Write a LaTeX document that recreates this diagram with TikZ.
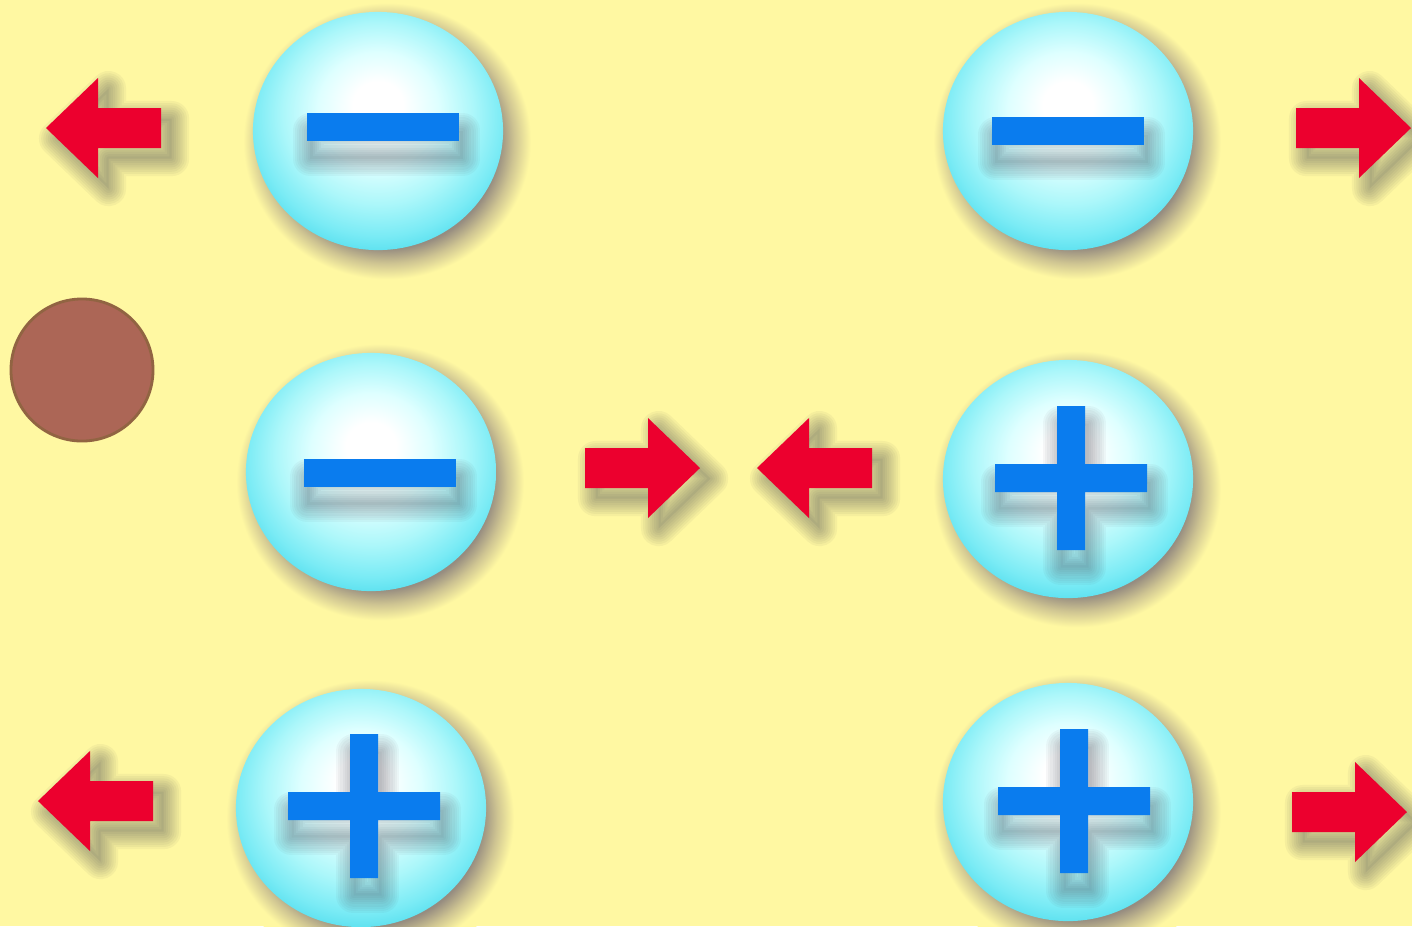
\documentclass[tikz,border=0pt]{standalone}
\usetikzlibrary{shapes.geometric}
\definecolor{bgyellow}{RGB}{255,248,162}
\definecolor{arrowred}{RGB}{236,0,46}
\definecolor{signblue}{RGB}{10,124,238}
\definecolor{cyanhi}{RGB}{222,255,255}
\definecolor{cyanmid}{RGB}{172,247,250}
\definecolor{cyanouter}{RGB}{122,235,245}
\definecolor{cyanedge}{RGB}{84,222,238}
\definecolor{dotbrown}{RGB}{172,102,86}
\definecolor{dotedge}{RGB}{145,100,66}
\definecolor{shadowcol}{RGB}{60,62,78}
\definecolor{shadowdark}{RGB}{150,140,128}
\definecolor{shadowmid}{RGB}{206,196,146}
\pgfdeclareradialshading{spherefill}{\pgfpoint{0bp}{6bp}}{color(0bp)=(white); color(5bp)=(white); color(12bp)=(cyanhi); color(19bp)=(cyanmid); color(25bp)=(cyanouter); color(29bp)=(cyanedge); color(50bp)=(cyanedge)}
\pgfdeclareradialshading{sphereshadow}{\pgfpoint{0bp}{0bp}}{color(0bp)=(shadowdark); color(18bp)=(shadowdark); color(20.5bp)=(shadowmid); color(23.2bp)=(bgyellow); color(50bp)=(bgyellow)}
\tikzset{
  shlayer/.style n args={4}{preaction={draw=shadowcol, opacity=#4, line join=round, line width=#3, transform canvas={xshift=#1, yshift=#2}}},
  softshadow/.style n args={5}{
    preaction={fill=shadowcol, opacity=#5, transform canvas={xshift=#1, yshift=#2}},
    shlayer={#1}{#2}{#3}{#4},
    shlayer={#1}{#2}{0.875*#3}{#4},
    shlayer={#1}{#2}{0.75*#3}{#4},
    shlayer={#1}{#2}{0.625*#3}{#4},
    shlayer={#1}{#2}{0.5*#3}{#4},
    shlayer={#1}{#2}{0.375*#3}{#4},
    shlayer={#1}{#2}{0.25*#3}{#4},
    shlayer={#1}{#2}{0.125*#3}{#4}},
  sphere/.style={ellipse, minimum width=2.5cm, minimum height=2.38cm, inner sep=0pt, shading=spherefill},
  sphshadow/.style={shading=sphereshadow},
  minusbar/.style={rectangle, minimum width=1.52cm, minimum height=0.28cm, inner sep=0pt,
    fill=signblue, softshadow={1pt}{-5pt}{10pt}{0.045}{0.05}},
  signfill/.style={fill=signblue, softshadow={1pt}{-5pt}{10pt}{0.045}{0.05}},
  arrowfill/.style={fill=arrowred, softshadow={3pt}{-3pt}{10pt}{0.05}{0.08}},
  plussign/.pic={\path[signfill] (-76,-14) -- (-14,-14) -- (-14,-72) -- (14,-72) -- (14,-14) -- (76,-14)
     -- (76,14) -- (14,14) -- (14,72) -- (-14,72) -- (-14,14) -- (-76,14) -- cycle;},
  rightarrow/.pic={\path[arrowfill] (-57,-20) -- (6,-20) -- (6,-50) -- (58,0) -- (6,50) -- (6,20) -- (-57,20) -- cycle;},
  leftarrow/.pic={\path[arrowfill] (57,-20) -- (-6,-20) -- (-6,-50) -- (-58,0) -- (-6,50) -- (-6,20) -- (57,20) -- cycle;}
}
\begin{document}
\begin{tikzpicture}[x=0.01cm, y=-0.01cm]
\useasboundingbox (0,0) rectangle (1412,926);
\clip (0,0) rectangle (1412,926);
\fill[bgyellow] (0,0) rectangle (1412,926);

% sphere centres
\coordinate (c1) at (378,131);
\coordinate (c2) at (1068,131);
\coordinate (c3) at (371,472);
\coordinate (c4) at (1068,479);
\coordinate (c5) at (361,808);
\coordinate (c6) at (1068,802);

% sphere shadows
\foreach \c in {c1,c2,c3,c4,c5,c6}
  \path[sphshadow] ([shift={(9,10)}]\c) ellipse [x radius=155, y radius=149];

% brown dot
\node[circle, minimum size=1.42cm, inner sep=0pt, fill=dotbrown, draw=dotedge, line width=0.8pt] (dot) at (82,370) {};

% spheres
\node[sphere] (s1) at (c1) {};
\node[sphere] (s2) at (c2) {};
\node[sphere] (s3) at (c3) {};
\node[sphere] (s4) at (c4) {};
\node[sphere] (s5) at (c5) {};
\node[sphere] (s6) at (c6) {};

% signs
\node[minusbar] (m1) at (383,127) {};
\node[minusbar] (m2) at (1068,131) {};
\node[minusbar] (m3) at (380,473) {};
\pic (p4) at (1071,478) {plussign};
\pic (p5) at (364,806) {plussign};
\pic (p6) at (1074,801) {plussign};

% arrows
\pic (a1) at (104,128) {leftarrow};
\pic (a2) at (1353,128) {rightarrow};
\pic (a3) at (642,468) {rightarrow};
\pic (a4) at (815,468) {leftarrow};
\pic (a5) at (96,801) {leftarrow};
\pic (a6) at (1349,812) {rightarrow};
\end{tikzpicture}
\end{document}
